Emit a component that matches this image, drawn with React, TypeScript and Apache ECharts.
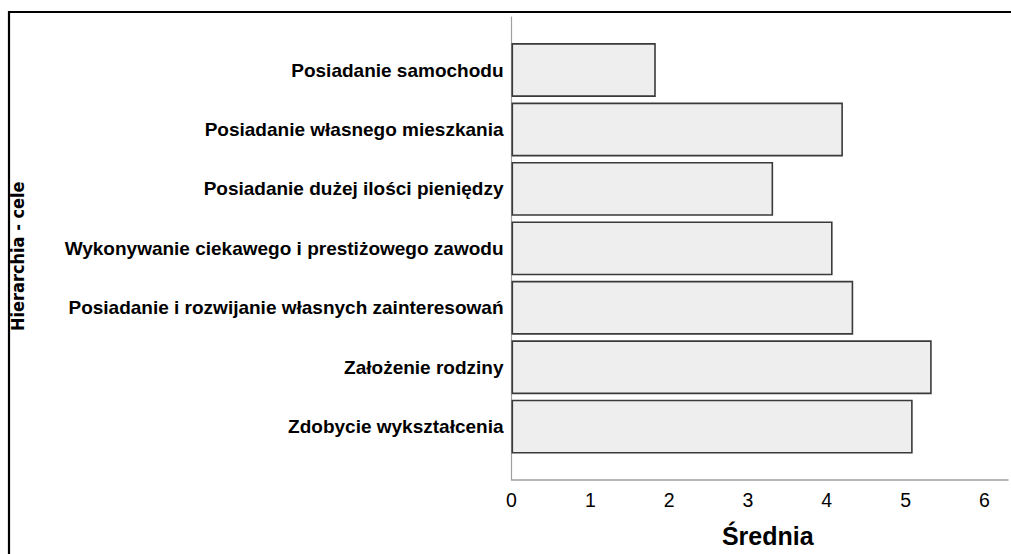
import React, { useEffect, useRef } from "react";
import * as echarts from "echarts";

const categories = [
  "Posiadanie samochodu",
  "Posiadanie własnego mieszkania",
  "Posiadanie dużej ilości pieniędzy",
  "Wykonywanie ciekawego i prestiżowego zawodu",
  "Posiadanie i rozwijanie własnych zainteresowań",
  "Założenie rodziny",
  "Zdobycie wykształcenia",
];
const values = [1.82, 4.18, 3.3, 4.05, 4.31, 5.3, 5.06];
const xTicks = [0, 1, 2, 3, 4, 5, 6];
const xMax = 6.3;

const FONT = "'Liberation Sans', Arial, sans-serif";

export default function App() {
  const ref = useRef<HTMLDivElement>(null);
  useEffect(() => {
    if (!ref.current) return;
    const chart = echarts.init(ref.current, undefined, { renderer: "svg" });
    chart.setOption({
      animation: false,
      backgroundColor: "#ffffff",
      grid: [
        { left: 511.5, right: 0, top: 17, bottom: 74.5 },
        { left: 511.5, right: 0, top: 40.3, bottom: 97.6 },
      ],
      xAxis: [
        {
          type: "value",
          gridIndex: 0,
          min: 0,
          max: xMax,
          interval: 1,
          axisLine: { show: true, lineStyle: { color: "#a0a0a0", width: 1.5 } },
          axisTick: { show: false },
          splitLine: { show: false },
          axisLabel: {
            color: "#000",
            fontSize: 19.5,
            fontFamily: FONT,
            margin: 10,
            formatter: (v: number) => (xTicks.includes(v) ? String(v) : ""),
          },
          name: "Średnia",
          nameLocation: "middle",
          nameGap: 44,
          nameTextStyle: {
            color: "#000",
            fontSize: 25,
            fontWeight: "bold",
            fontFamily: FONT,
            padding: [0, 0, 0, 16],
          },
        },
        {
          type: "value",
          gridIndex: 1,
          min: 0,
          max: xMax,
          show: false,
        },
      ],
      yAxis: [
        {
          type: "value",
          gridIndex: 0,
          min: 0,
          max: 1,
          axisLine: { show: true, lineStyle: { color: "#a0a0a0", width: 1.2 } },
          axisTick: { show: false },
          axisLabel: { show: false },
          splitLine: { show: false },
          name: "Hierarchia - cele",
          nameLocation: "middle",
          nameRotate: 90,
          nameGap: 485,
          nameTextStyle: {
            color: "#000",
            fontSize: 18,
            fontWeight: "bold",
            fontFamily: "'Liberation Sans Narrow', 'DejaVu Sans Condensed', sans-serif",
            padding: [0, 16, 0, 0],
          },
        },
        {
          type: "category",
          gridIndex: 1,
          data: categories,
          inverse: true,
          axisLine: { show: false },
          axisTick: { show: false },
          axisLabel: {
            color: "#000",
            fontSize: 19,
            fontWeight: "bold",
            fontFamily: FONT,
            margin: 8,
          },
        },
      ],
      series: [
        {
          type: "bar",
          xAxisIndex: 1,
          yAxisIndex: 1,
          data: values,
          barCategoryGap: "9.4%",
          itemStyle: {
            color: "#eeeeee",
            borderColor: "#3a3a3a",
            borderWidth: 1.6,
          },
        },
      ],
      graphic: [
        {
          type: "rect",
          shape: { x: 9, y: 12, width: 1200, height: 800 },
          style: { fill: "none", stroke: "#000", lineWidth: 2.2 },
          silent: true,
        },
      ],
    });
    return () => chart.dispose();
  }, []);
  return (
    <div
      ref={ref}
      style={{ position: "absolute", left: 0, top: 0, width: 1011, height: 554 }}
    />
  );
}
